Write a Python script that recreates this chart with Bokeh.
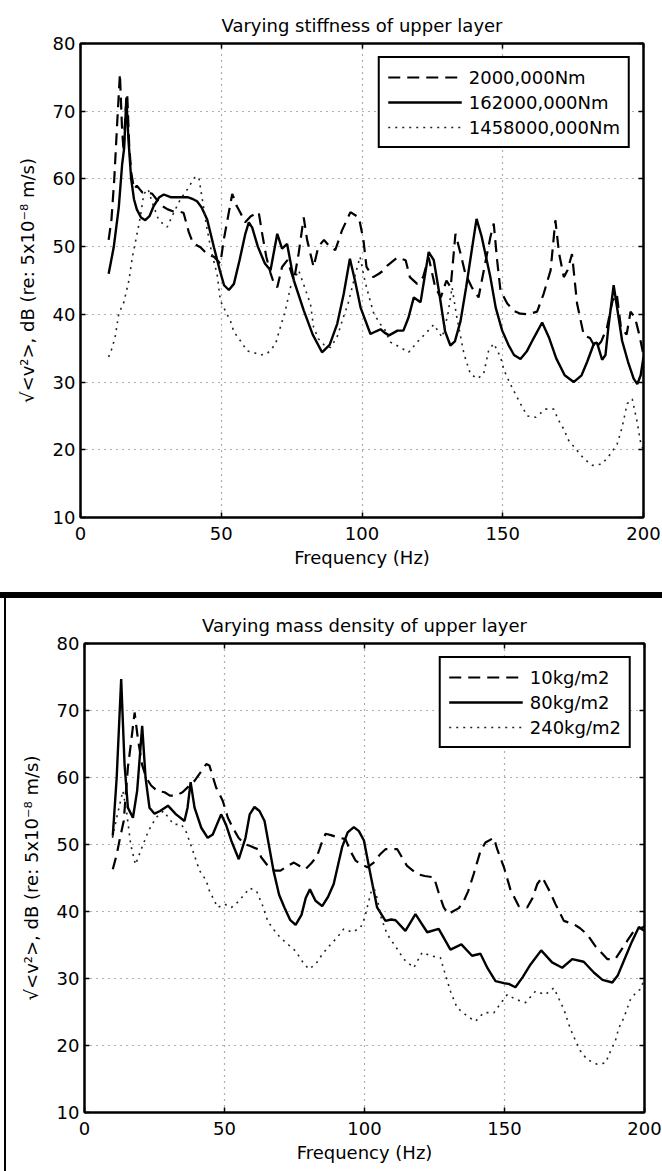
from bokeh.plotting import figure
from bokeh.models import LinearAxis, Range1d, Legend, LegendItem, Div, FixedTicker
from bokeh.layouts import column, row
from bokeh.embed import file_html
from bokeh.resources import INLINE

# ---------------- data: top panel (varying stiffness) ----------------
top_title = "Varying stiffness of upper layer"
top_labels = ["2000,000Nm", "162000,000Nm", "1458000,000Nm"]

stiff_low_x = [10, 11, 12, 13, 14, 14.7, 15.3, 16, 16.6, 17.3, 18, 19, 20, 21, 22, 24, 25.5, 27, 29, 31, 33, 35,
               36.6, 38.5, 40, 42.6, 45, 47.4, 49.7, 50.8, 52, 53.9, 55.5, 56.8, 58.5, 60.5, 63.3, 64.5, 66, 67.5,
               68.7, 69.9, 71.6, 73.5, 75.8, 77.5, 79.3, 80.5, 82.8, 84.5, 86.5, 88.5, 90.5, 92.9, 95.9, 98.9,
               100.5, 101.6, 104, 106, 107.7, 109, 112.6, 115.5, 117, 119.6, 121.7, 123.7, 126, 128, 130, 131.5,
               133.2, 135, 136.7, 139, 141.4, 143.5, 145.6, 146.8, 148, 149.2, 151.6, 154, 156.3, 159, 162.2,
               164.5, 167, 168.7, 170, 171.7, 173, 174.6, 176.4, 178.8, 181, 183, 185, 187, 189, 190.5, 192, 194,
               195.4, 197, 198.5, 200]
stiff_low_y = [51, 54, 60, 68, 75.5, 68, 64, 70, 72.5, 65, 61, 58.5, 59, 58.5, 58, 58, 57.8, 57, 56, 55.5, 55.2, 55.2,
               55, 52.1, 50.5, 49.9, 48.9, 48.5, 47.5, 50.8, 53.5, 57.8, 56, 55, 53.6, 54.5, 55.1, 52, 48.5, 46.1,
               44.6, 44, 47, 48, 45, 49, 54.3, 51, 47, 50, 51, 50, 49.5, 52.4, 55.1, 54.3,
               51, 47, 45.5, 46, 46.5, 47.2, 48.4, 48, 45.5, 44.5, 45.5, 48.4, 44, 42.5, 45, 44,
               51.9, 49, 46, 44, 42.5, 47, 51.4, 53.4, 48, 43.5, 41.6, 40.5, 40.1, 40, 40.4,
               43, 46.5, 53.9, 49, 45.5, 46.5, 48.9, 41.6, 36.9, 36.5, 35, 36, 38, 42, 43, 38, 37,
               40.4, 39.5, 37, 34]

stiff_mid_x = [10, 11.8, 13.6, 14.8, 15.5, 16.3, 17, 18, 19, 20, 21.5, 23, 24.5, 26, 28, 29.6, 32, 35, 38, 40, 41.4,
               43, 45, 47.4, 49.5, 51, 52.7, 54.5, 56.5, 58.5, 59.8, 61, 63, 65.5, 67.5, 69.9, 71.6, 73.4, 75.8,
               79.3, 82.5, 85.8, 88.5, 91.2, 93.5, 95.7, 97.5, 99.5, 103, 105, 106.6, 108, 109.6, 112.6, 114.7,
               116.5, 118.4, 120.8, 123.7, 125.5, 127.5, 129.5, 131.4, 133, 135, 137, 139, 140.7, 142.5, 145.6,
               147.5, 149.8, 152, 154, 156.3, 158.5, 161, 164, 166.5, 169, 172, 175.2, 178, 180, 182.4, 183.5,
               185.3, 186.5, 187.5, 189.4, 190.8, 192.4, 194.5, 196.5, 197.8, 199, 200]
stiff_mid_y = [46, 49.9, 55.8, 62.2, 64.5, 72, 66, 60, 57, 55.5, 54.3, 53.9, 54.5, 56, 57.3, 57.7, 57.3, 57.3, 57.3,
               57, 56.7, 55.8, 54, 49.9, 46.5, 44.3, 43.6, 44.5, 48, 51.8, 53.6, 52.8, 50, 47.5, 46.5, 51.9, 49.7,
               50.4, 45, 40.6, 37, 34.4, 35.5, 38.6, 43, 48.2, 45, 41, 37.1, 37.5, 37.8, 37.3, 36.9, 37.6, 37.6,
               39.5, 42.5, 41.8, 49.2, 48, 43, 37.5, 35.4, 36, 39, 44, 49.5, 54.1, 51.5, 45.5,
               41, 37.6, 35.5, 34, 33.4, 34.5, 36.5, 38.8, 36.5, 33.5, 31, 30, 31, 33, 35.7, 35.8,
               33.3, 34, 38, 44.3, 40.5, 36.1, 33, 30.5, 29.7, 31, 33.7]

stiff_high_x = [10, 11.3, 12.4, 13.6, 15.4, 17.2, 18.4, 20.1, 21.3, 22.5, 24, 25.5, 27.8, 30.8, 33.1, 35.5, 38, 40.5,
                42, 43.3, 45, 46.7, 48.5, 49.7, 51.5, 53.3, 54.5, 56.8, 59.2, 62, 64, 66.3, 69.3, 70.5, 72.8, 74.6,
                77.5, 79.2, 81.7, 82.8, 84.5, 86.5, 88.8, 91.1, 93.4, 95, 96.5, 97.7, 99.3, 101, 102.5, 104.2,
                106.6, 107.7, 110.1, 113.7, 116.6, 119.6, 123.1, 125.5, 128.5, 130.5, 132, 133.5, 136.2, 138.5,
                141, 143.2, 145, 146.8, 149.2, 150.5, 152.7, 156.3, 158.7, 161.7, 165.2, 168.1, 169.9, 171.6,
                173.4, 176.4, 178.8, 181.8, 185.3, 188.3, 190.6, 192.4, 194.2, 196, 197.8, 199, 200]
stiff_high_y = [33.7, 35.1, 36.9, 40.1, 41.8, 45, 48.4, 51.9, 54.5, 57.8, 58.5, 56.5, 53.9, 52.9, 55, 57, 58.5, 60.2,
                60.3, 56.9, 52.5, 48.9, 46, 42, 40.5, 39, 37.4, 36.1, 34.6, 34.3, 34, 34.2, 35.6, 37.4, 40.6, 44,
                46.5, 44.5, 41.5, 38.1, 36.4, 35.5, 35.1, 36.6, 39.6, 41.5, 44, 46, 48.5, 45, 42.6, 40.1,
                38.5, 38.1, 35.9, 35.1, 34.4, 35.9, 37.4, 38.5, 36.6, 40, 44, 40, 34.2, 31.2,
                30.5, 31.2, 34.7, 35.7, 33.7, 31.7, 29.7, 26.8, 25, 24.8, 26, 26, 24.3, 23.1,
                21.4, 19.9, 18.7, 17.7, 17.9, 19.4, 20.8, 23.3, 26.8, 27.5, 24, 21, 20]

# ---------------- data: bottom panel (varying mass density) ----------------
bottom_title = "Varying mass density of upper layer"
bottom_labels = ["10kg/m2", "80kg/m2", "240kg/m2"]

mass_low_x = [10.1, 11.5, 12.5, 14, 15.5, 16.7, 17.9, 19, 20.5, 22, 23.8, 26, 28.6, 30.5, 32.7, 35, 37.5, 39.3, 41.5,
              43.5, 44.6, 47, 49.4, 51.2, 53, 55, 57.1, 59, 61.9, 63.1, 65.5, 67.9, 70, 72.5, 74.8, 76.8, 78.9, 81,
              83.1, 84.5, 86.1, 88, 90.2, 93.2, 95, 96.8, 99, 101, 103.3, 105.5, 107.5, 109.5, 111.7, 113.5, 115.2,
              118.8, 121.5, 124.8, 126.5, 128.3, 130, 131.5, 133.7, 135.5, 137, 139, 141.4, 143.2, 146.2, 147.4,
              149.8, 152.1, 155.1, 158.1, 160, 161.7, 163.5, 166.4, 168.2, 171.2, 174.8, 177, 179.5, 182.5, 186.7,
              189.6, 193.8, 196.2, 199.2, 200]
mass_low_y = [46.3, 48.5, 50.6, 53.5, 61.5, 65.5, 69.7, 66, 62, 60, 58.8, 58, 57.8, 57.3, 57.3, 57.8, 58.8, 59.5, 60.8,
              62, 61.8, 58.5, 56.5, 54, 52.5, 51, 50.1, 49.8, 49.3, 48.1, 46.8, 46.1, 46.1, 46.8, 47.3, 46.8, 46.3, 47.2,
              48.3, 50, 51.6, 51.4, 51.1, 50.8, 49, 47.6, 47, 46.6, 47.3, 48.5, 49.3, 49.3, 49.3, 48, 46.8,
              45.6, 45.3, 45.1, 42.8, 40.6, 39.6, 40, 40.5, 41.6, 43, 45.6, 49, 50.3, 51, 49.3,
              46.6, 43.3, 40.8, 40.6, 42, 44.1, 45.1, 42.8, 41.1, 38.6, 38.1, 37.5, 36.6, 34.8, 32.9,
              32.9, 35.6, 37.1, 37.6, 37.8]

mass_mid_x = [10.1, 11.5, 13.1, 14.3, 15.5, 17.3, 18.8, 20.6, 21.8, 23.2, 25, 27, 29.8, 32.7, 35.7, 36.8, 37.9, 39.3,
              41.7, 44, 45.8, 48.8, 50.5, 52.4, 55.1, 57.5, 59, 60.7, 62.5, 64.3, 67.5, 69.5, 71.4, 73.5, 75.4, 77.5,
              79, 80.5, 82.5, 84.9, 87, 89, 92, 94, 96.2, 98, 99.8, 102.1, 104.5, 107.5, 109.5, 111.1, 114.6, 118.2,
              122.4, 126.5, 130.7, 134.6, 138.4, 141.4, 144, 146.8, 149.8, 151.5, 153.9, 156.5, 159.3, 163.1, 167,
              170.6, 174.2, 178.3, 181.9, 185, 188.5, 190.5, 192.6, 195.5, 198, 200]
mass_mid_y = [51.3, 60, 74.7, 62, 55.5, 54, 58, 67.7, 60, 55.5, 54.6, 55, 55.8, 54.5, 53.5, 55.5, 59.3, 55.5,
              52.5, 51, 51.5, 54.5, 53, 50.6, 47.8, 51, 54.5, 55.6, 55, 53.5, 46.1, 42.5, 40.6, 38.7, 38, 39.5,
              42, 43.3, 41.6, 40.8, 42.2, 44.1, 49.6, 51.8, 52.6, 52, 50.6, 45.6, 40.6, 38.6, 38.8, 38.7, 37.1, 39.6,
              36.9, 37.4, 34.3, 35.1, 33.4, 33.7, 31.5, 29.6, 29.3, 29.2, 28.7, 30.2, 32.1, 34.2, 32.4,
              31.6, 32.9, 32.5, 30.9, 29.8, 29.4, 30.5, 32.6, 35.5, 37.7, 37.1]

mass_high_x = [10, 11.5, 13.7, 15, 16.5, 18.2, 20, 22.8, 25.5, 28.2, 31.8, 34.6, 36.4, 38.5, 41.1, 43.5, 44.6, 46.4,
               47.6, 50, 52.5, 55, 57, 59, 61.5, 63.5, 65.5, 68.8, 71.8, 75.4, 77.7, 80.1, 82.5, 84.9, 87.9, 90.2,
               92.6, 95.6, 98.6, 100, 101.5, 103, 104.5, 106, 108.1, 111.7, 114, 117.6, 120.6, 123.6, 127.1, 128.3,
               130.7, 133.1, 136.7, 139.6, 142.6, 146.2, 149.2, 151, 153.9, 157.5, 161.1, 164.6, 167.6, 171.2,
               173.6, 175.4, 177.1, 179.5, 183.1, 186.1, 187.9, 189.6, 190.8, 192.6, 195, 197.4, 198.6, 200]
mass_high_y = [51, 54, 58, 55, 50, 47, 49, 52, 54, 55, 53, 53, 51.8, 49.3, 46.1, 44.6, 43.1, 41.6,
               40.6, 41.1, 40.6, 41.5, 42.5, 43.5, 43, 41, 38.5, 36.6, 35.4, 34.1, 32.6, 31.4, 32.1, 33.6, 35.1, 36.1,
               37.4, 36.9, 37.6, 39, 41.5, 44, 42, 39, 36.6, 34.4, 32.9, 31.6, 33.9, 33.4, 33.1, 31.4,
               28.1, 25.6, 24.4, 23.6, 24.9, 24.9, 26.6, 27.6, 26.9, 26.4, 28.1, 27.6, 28.6, 25.4,
               22.4, 20.7, 19.2, 17.9, 17.2, 17.4, 19.2, 20.7, 22.6, 24.1, 26.9, 28.1, 28.4, 30]

x_ticks = [0, 50, 100, 150, 200]
y_ticks = [10, 20, 30, 40, 50, 60, 70, 80]
x_label = "Frequency (Hz)"
y_label = "\u221a<v\u00b2>, dB (re: 5x10\u207b\u2078 m/s)"

FONT = "DejaVu Sans"
FS = "18px"


def make_panel(width, height, title, mbl, mbr, mbt, mbb, series, labels):
    p = figure(width=width, height=height, output_backend="svg", toolbar_location=None,
               x_range=Range1d(0, 200), y_range=Range1d(10, 80),
               min_border_left=mbl, min_border_right=mbr, min_border_top=mbt, min_border_bottom=mbb,
               background_fill_color="white", border_fill_color="white")
    p.title.text = title
    p.title.align = "center"
    p.title.text_font = FONT
    p.title.text_font_size = FS
    p.title.text_font_style = "normal"
    p.title.text_color = "black"
    p.title.standoff = 16
    p.outline_line_color = "black"
    p.outline_line_width = 2

    for ax in (p.xaxis[0], p.yaxis[0]):
        ax.major_tick_in = 5
        ax.major_tick_out = 0
        ax.minor_tick_line_color = None
        ax.axis_line_width = 2
        ax.major_tick_line_width = 1.5
        ax.major_label_text_font = FONT
        ax.major_label_text_font_size = FS
        ax.major_label_text_color = "black"
        ax.axis_label_text_font = FONT
        ax.axis_label_text_font_size = FS
        ax.axis_label_text_font_style = "normal"
        ax.axis_label_text_color = "black"
    p.xaxis[0].ticker = FixedTicker(ticks=x_ticks)
    p.yaxis[0].ticker = FixedTicker(ticks=y_ticks)
    p.xaxis[0].axis_label = x_label
    p.yaxis[0].axis_label = y_label
    p.xaxis[0].major_label_standoff = 9
    p.xaxis[0].axis_label_standoff = 4
    p.yaxis[0].major_label_standoff = 5
    p.yaxis[0].axis_label_standoff = 12

    # tick marks on the right and top edges (MATLAB "box on" style), no labels drawn
    for loc, tk in (("right", y_ticks), ("above", x_ticks)):
        ax = LinearAxis(ticker=FixedTicker(ticks=tk))
        ax.major_tick_in = 5
        ax.major_tick_out = 0
        ax.minor_tick_line_color = None
        ax.axis_line_width = 2
        ax.major_tick_line_width = 1.5
        ax.major_label_text_font_size = "1px"
        ax.major_label_text_color = None
        ax.major_label_standoff = 0
        p.add_layout(ax, loc)

    p.xgrid.ticker = FixedTicker(ticks=x_ticks[1:-1])
    p.ygrid.ticker = FixedTicker(ticks=y_ticks[1:-1])
    for g in (p.xgrid[0], p.ygrid[0]):
        g.grid_line_color = "#444444"
        g.grid_line_dash = "1 5"
        g.grid_line_width = 1.2
        g.grid_line_alpha = 0.85

    (lx, ly), (mx, my), (hx, hy) = series
    r1 = p.line(lx, ly, line_color="black", line_width=2.2, line_dash="12 7")
    r2 = p.line(mx, my, line_color="black", line_width=2.4)
    r3 = p.line(hx, hy, line_color="#222222", line_width=1.6, line_dash="2 5")

    legend = Legend(items=[LegendItem(label=labels[0], renderers=[r1]),
                           LegendItem(label=labels[1], renderers=[r2]),
                           LegendItem(label=labels[2], renderers=[r3])],
                    location="top_right")
    legend.margin = 13
    legend.padding = 8
    legend.spacing = 3
    legend.glyph_width = 74
    legend.glyph_height = 22
    legend.label_height = 22
    legend.label_standoff = 7
    legend.label_text_font = FONT
    legend.label_text_font_size = FS
    legend.label_text_color = "black"
    legend.border_line_color = "black"
    legend.border_line_alpha = 1.0
    legend.border_line_width = 2
    legend.background_fill_color = "white"
    legend.background_fill_alpha = 1
    p.add_layout(legend)
    return p


p1 = make_panel(662, 592, top_title, 80, 19, 43, 75,
                [(stiff_low_x, stiff_low_y), (stiff_mid_x, stiff_mid_y), (stiff_high_x, stiff_high_y)],
                top_labels)
p2 = make_panel(656, 573, bottom_title, 78, 18, 45, 59,
                [(mass_low_x, mass_low_y), (mass_mid_x, mass_mid_y), (mass_high_x, mass_high_y)],
                bottom_labels)

bar = Div(text="", width=662, height=6, margin=0, styles={"background-color": "black"})
gap = Div(text="", width=4, height=573, margin=0, styles={"background-color": "white"})
vline = Div(text="", width=2, height=573, margin=0, styles={"background-color": "black"})

layout = column(p1, bar, row(gap, vline, p2, spacing=0), spacing=0)

open("out.html", "w").write(file_html(layout, INLINE))
